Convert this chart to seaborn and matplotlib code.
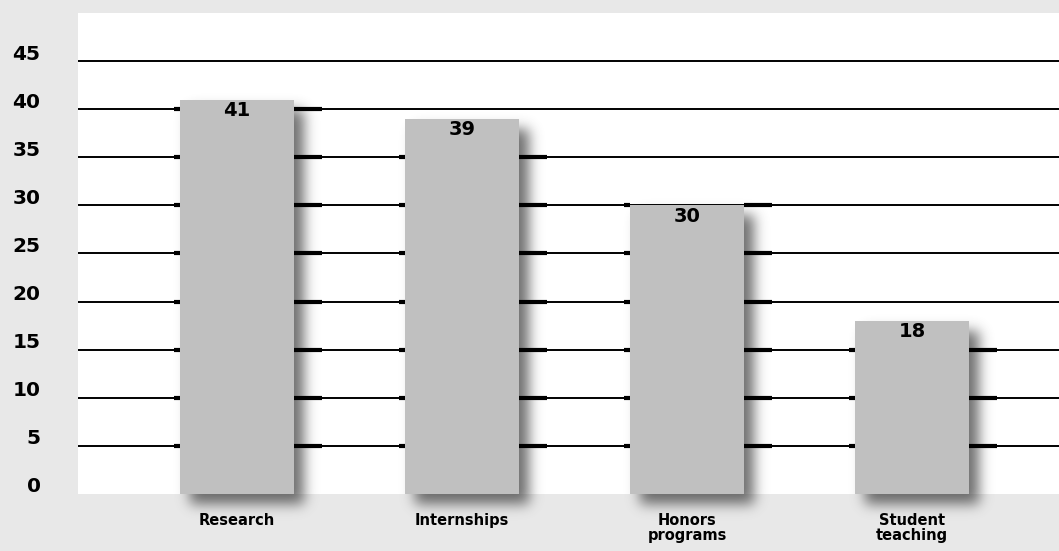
import matplotlib
matplotlib.use("Agg")
import matplotlib.pyplot as plt
import matplotlib.transforms as mtransforms
from matplotlib.patches import Rectangle
import numpy as np
import seaborn as sns

categories = ["Research", "Internships", "Honors\nprograms", "Student\nteaching"]
values = [41, 39, 30, 18]
y_ticks = [0, 5, 10, 15, 20, 25, 30, 35, 40, 45]

BG = "#e8e8e8"
BAR = "#c0c0c0"


def drop_shadow(im, dpi):
    """Blurred, offset copy of the patch alpha (agg_filter)."""
    pad = 36
    h, w, _ = im.shape
    a = np.zeros((h + 2 * pad, w + 2 * pad))
    a[pad:pad + h, pad:pad + w] = im[..., 3]
    # move down and right
    a = np.roll(a, 10, axis=0)
    a = np.roll(a, 10, axis=1)
    sigma = 6.5
    k = np.exp(-0.5 * (np.arange(-24, 25) / sigma) ** 2)
    k /= k.sum()
    a = np.apply_along_axis(lambda r: np.convolve(r, k, mode="same"), 0, a)
    a = np.apply_along_axis(lambda r: np.convolve(r, k, mode="same"), 1, a)
    out = np.zeros((h + 2 * pad, w + 2 * pad, 4))
    out[..., :3] = 0.25
    out[..., 3] = a * 0.75
    return out, -pad, -pad


sns.set_style("white")
plt.rcParams["font.family"] = ["DejaVu Sans"]
plt.rcParams["text.color"] = "black"
plt.rcParams["xtick.color"] = "black"
plt.rcParams["ytick.color"] = "black"

fig = plt.figure(figsize=(10.59, 5.51), dpi=100, facecolor=BG)
ax = fig.add_axes([78 / 1059, 57 / 551, 1 - 78 / 1059, 481 / 551])
ax.set_facecolor("white")

sns.barplot(x=categories, y=values, color=BAR, saturation=1, width=0.507, ax=ax,
            linewidth=0, edgecolor="none", zorder=3)

ax.set_xlim(-0.707, 3.653)
ax.set_ylim(0, 50)
for s in ax.spines.values():
    s.set_visible(False)

bars = list(ax.patches)

# shadows behind the bars
for b in bars:
    sh = Rectangle((b.get_x(), 0), b.get_width(), b.get_height(), facecolor="k",
                   edgecolor="none", zorder=1, clip_on=False)
    sh.set_agg_filter(drop_shadow)
    ax.add_patch(sh)

# gridlines (no line at 0)
ax.hlines(y_ticks[1:], 0, 1, transform=ax.get_yaxis_transform(), color="black",
          lw=1.4, zorder=2)
# heavier segments beside each bar
for b in bars:
    xl, xr, h = b.get_x(), b.get_x() + b.get_width(), b.get_height()
    lv = [t for t in y_ticks[1:] if t <= h]
    ax.hlines(lv, xr, xr + 0.125, color="black", lw=3, zorder=2)
    ax.hlines(lv, xl - 0.025, xl, color="black", lw=3, zorder=2)

# value labels inside bar tops
for b, v in zip(bars, values):
    ax.annotate(str(v), (b.get_x() + b.get_width() / 2, b.get_height()),
                xytext=(0, -1), textcoords="offset points", ha="center", va="top",
                fontsize=14, fontweight="bold", color="black", zorder=4)

ax.set_yticks(y_ticks)
ax.set_yticklabels([str(t) for t in y_ticks], fontsize=14.5, fontweight="bold")
ax.tick_params(axis="y", length=0, pad=27, labelcolor="black")
shift = mtransforms.ScaledTranslation(0, 9 / 100, fig.dpi_scale_trans)
for lab in ax.get_yticklabels():
    lab.set_transform(lab.get_transform() + shift)

ax.set_xticks(range(len(categories)))
ax.set_xticklabels(categories, fontsize=10.5, fontweight="bold", linespacing=1.0)
ax.tick_params(axis="x", length=0, pad=14, labelcolor="black")
ax.set_xlabel("")
ax.set_ylabel("")

fig.savefig("out.png", dpi=100, facecolor=BG)
